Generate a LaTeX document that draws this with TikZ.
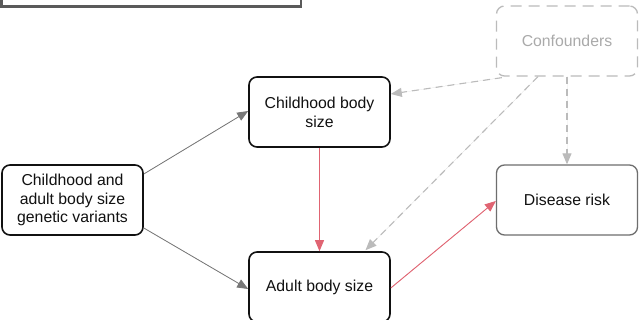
\documentclass[tikz,border=0pt]{standalone}
\usepackage{fontspec}
\setmainfont{Liberation Sans}
\usetikzlibrary{arrows.meta,calc}
\definecolor{boxblack}{HTML}{111111}
\definecolor{arrgray}{HTML}{777777}
\definecolor{arrred}{HTML}{E06472}
\definecolor{lightg}{HTML}{BBBBBB}
\definecolor{confg}{HTML}{AAAAAA}
\definecolor{topg}{HTML}{5A5A5A}
\definecolor{disg}{HTML}{6E6E6E}
\tikzset{
  box/.style={draw=boxblack, line width=1.6pt, rounded corners=8pt, minimum width=141pt, minimum height=70pt, align=center, font=\fontsize{15.8}{18.8}\selectfont, text=boxblack, inner sep=0pt},
  disbox/.style={box, draw=disg, line width=1.3pt},
  confbox/.style={box, draw=lightg, line width=1.3pt, dash pattern=on 11pt off 7pt, text=confg},
  tip/.style={-{Triangle[length=11pt,width=9pt]}},
  grayarr/.style={tip, draw=arrgray, fill=arrgray, line width=0.8pt},
  redarr/.style={tip, draw=arrred, fill=arrred, line width=0.9pt},
  dasharr/.style={tip, draw=lightg, fill=lightg, line width=1.1pt, dash pattern=on 7pt off 5pt},
  topbox/.style={draw=topg, line width=2.5pt}
}
\begin{document}
\begin{tikzpicture}[x=1pt,y=-1pt]
\useasboundingbox (0,0) rectangle (643,320);
\clip (0,0) rectangle (643,320);
\fill[white] (0,0) rectangle (643,320);
\draw[topbox] (1.5,-30) rectangle (301,6.5);
\node[box] (gen) at (72.5,200) {Childhood and\\adult body size\\genetic variants};
\node[box] (child) at (319.5,112) {Childhood body\\size};
\node[box] (adult) at (319.5,287) {Adult body size};
\node[disbox] (dis) at (567,200) {Disease risk};
\node[confbox] (conf) at (567,41) {Confounders};
\draw[grayarr] ([yshift=26pt]gen.east) -- ([yshift=1pt]child.west);
\draw[grayarr] ([yshift=-28pt]gen.east) -- ([yshift=-2pt]adult.west);
\draw[redarr] (child.south) -- (adult.north);
\draw[redarr] ([yshift=-1pt]adult.east) -- ([yshift=-1pt]dis.west);
\draw[dasharr] ([xshift=6pt,yshift=-1pt]conf.south west) -- ([yshift=18pt]child.east);
\draw[dasharr] ([xshift=-29pt]conf.south) -- ([xshift=46pt,yshift=1pt]adult.north);
\draw[dasharr] (conf.south) -- (dis.north);
\end{tikzpicture}
\end{document}
